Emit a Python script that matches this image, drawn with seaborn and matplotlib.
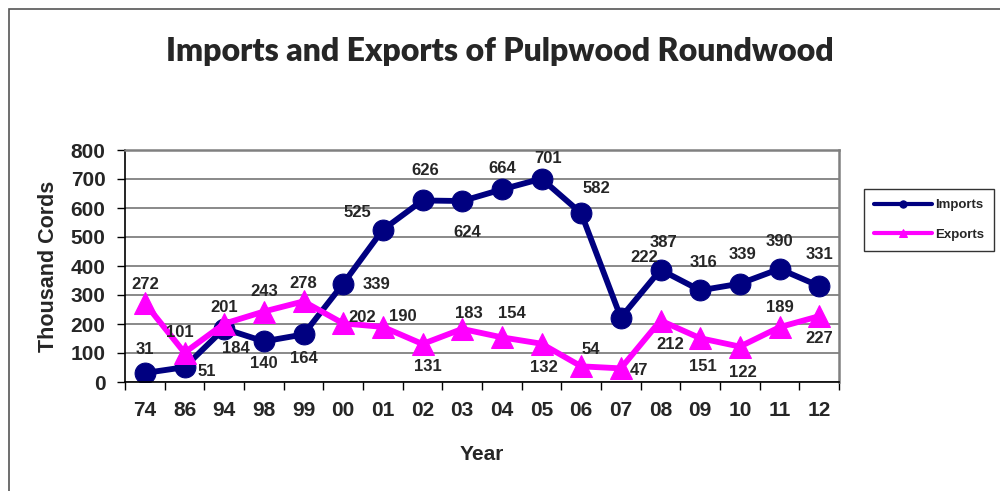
import matplotlib
matplotlib.use('Agg')
import matplotlib.pyplot as plt
import seaborn as sns
import numpy as np
import pandas as pd
from matplotlib.patches import Rectangle

# Chart data
years = ['74', '86', '94', '98', '99', '00', '01', '02', '03', '04',
         '05', '06', '07', '08', '09', '10', '11', '12']
imports = [31, 51, 184, 140, 164, 339, 525, 626, 624, 664,
           701, 582, 222, 387, 316, 339, 390, 331]
exports = [272, 101, 201, 243, 278, 202, 190, 131, 183, 154,
           132, 54, 47, 212, 151, 122, 189, 227]

# label offsets in pixels (style only)
imp_off = [(0, 24), (22, -4), (12, -20), (0, -22), (0, -24), (33, -1), (-25, 17),
           (3, 30), (5, -31), (0, 21), (7, 20), (15, 25), (23, 60), (3, 27),
           (3, 28), (3, 29), (0, 27), (0, 32)]
exp_off = [(0, 19), (-5, 20), (0, 16), (0, 20), (0, 18), (19, 6), (20, 10),
           (5, -22), (7, 15), (10, 24), (2, -24), (10, 17), (18, -2), (10, -24),
           (3, -28), (3, -26), (0, 20), (0, -22)]

sns.set_style('white')
plt.rcParams['font.family'] = ['Liberation Sans', 'DejaVu Sans']

fig = plt.figure(figsize=(10, 4.91), dpi=100)
ax = fig.add_axes([0.125, 1 - 382 / 491, 0.714, (382 - 150) / 491])

# outer chart border
fig.patches.append(Rectangle((9 / 1000, -0.1), 1.2, 1 - 9 / 491 + 0.1,
                             transform=fig.transFigure, fill=False,
                             edgecolor='#555555', linewidth=1.2))

df = pd.DataFrame({'pos': np.arange(len(years)), 'Imports': imports, 'Exports': exports})

sns.lineplot(data=df, x='pos', y='Imports', ax=ax, color='#000080', linewidth=4.2,
             marker='o', markersize=15, markeredgecolor='#000080', label='Imports')
sns.lineplot(data=df, x='pos', y='Exports', ax=ax, color='#FF00FF', linewidth=4.2,
             marker='^', markersize=16, markeredgecolor='#FF00FF', label='Exports')

for i in range(len(years)):
    ax.annotate(str(imports[i]), (i, imports[i]), xytext=imp_off[i], textcoords='offset pixels',
                ha='center', va='center', fontsize=12, fontweight='bold')
    ax.annotate(str(exports[i]), (i, exports[i]), xytext=exp_off[i], textcoords='offset pixels',
                ha='center', va='center', fontsize=12, fontweight='bold')

ax.set_xlim(-0.5, len(years) - 0.5)
ax.set_ylim(0, 800)
ax.set_yticks(range(0, 801, 100))
ax.set_xticks(np.arange(len(years)))
ax.set_xticklabels(years)
ax.set_xticks(np.arange(len(years) + 1) - 0.5, minor=True)
ax.tick_params(axis='x', which='major', length=0, pad=14, labelsize=15)
ax.tick_params(axis='x', which='minor', length=6, width=1, color='black', direction='out', bottom=True)
ax.tick_params(axis='y', length=6, width=1, color='black', direction='out', left=True, pad=8, labelsize=15)
for lab in ax.get_xticklabels() + ax.get_yticklabels():
    lab.set_fontweight('bold')

ax.yaxis.grid(True, color='#808080', linewidth=1.3)
ax.set_axisbelow(True)
for side in ['top', 'right']:
    ax.spines[side].set_color('#808080')
    ax.spines[side].set_linewidth(1.8)
for side in ['left', 'bottom']:
    ax.spines[side].set_color('black')
    ax.spines[side].set_linewidth(1.2)

ax.set_xlabel('Year', fontsize=15, fontweight='bold', labelpad=18)
ax.set_ylabel('Thousand Cords', fontsize=15.5, fontweight='bold', labelpad=8)

fig.text(0.5, 1 - 52 / 491, 'Imports and Exports of Pulpwood Roundwood', ha='center', va='center',
         fontsize=23, fontweight='heavy', family=['Lato', 'DejaVu Sans'])

leg = ax.legend(loc='center left', bbox_to_anchor=(857 / 1000, 1 - 220 / 491),
                bbox_transform=fig.transFigure, frameon=True, fancybox=False,
                prop={'size': 9.5, 'weight': 'bold'}, handlelength=4.4, borderpad=0.8,
                labelspacing=1.3, markerscale=0.35, handletextpad=0.2)
leg.get_frame().set_edgecolor('black')
leg.get_frame().set_linewidth(1)
for line in leg.get_lines():
    line.set_linewidth(3)

fig.savefig('out.png', dpi=100)
